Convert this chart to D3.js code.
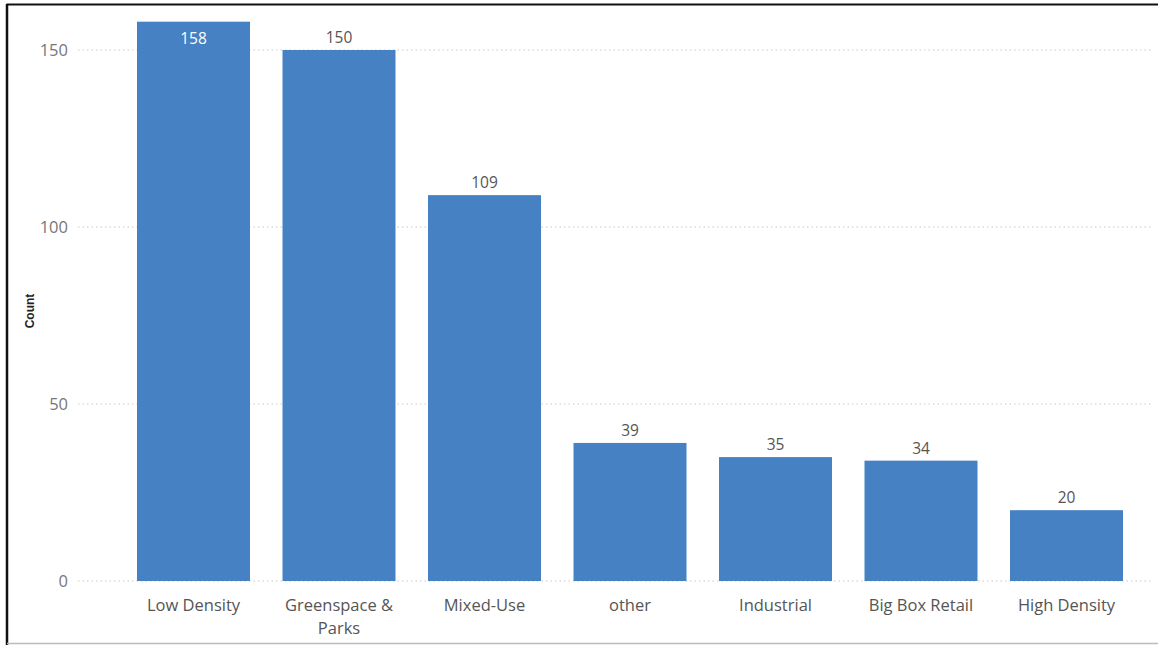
<!DOCTYPE html>
<html><head><meta charset="utf-8">
<script src="https://cdn.jsdelivr.net/npm/d3@7"></script>
<style>body{margin:0;background:#fff}svg{display:block}</style>
</head><body>
<script>
const categories = ["Low Density", "Greenspace & Parks", "Mixed-Use", "other", "Industrial", "Big Box Retail", "High Density"];
const counts = [158, 150, 109, 39, 35, 34, 20];
const yTicks = [0, 50, 100, 150];
const yTitle = "Count";

const W = 1158, H = 645;
const svg = d3.select("body").append("svg").attr("width", W).attr("height", H);
const font = "'Segoe UI', 'Open Sans', sans-serif";

// frame
svg.append("line").attr("x1", 6.5).attr("x2", W).attr("y1", 4.5).attr("y2", 4.5).attr("stroke", "#111").attr("stroke-width", 2);
svg.append("line").attr("x1", 7).attr("x2", 7).attr("y1", 4).attr("y2", H).attr("stroke", "#111").attr("stroke-width", 2.5);
svg.append("line").attr("x1", 7).attr("x2", W).attr("y1", 643.5).attr("y2", 643.5).attr("stroke", "#bbb").attr("stroke-width", 1.5);

const x = d3.scaleBand().domain(categories).range([120.75, 1139.25]).paddingInner(0.2234).paddingOuter(0.1117);
const y = d3.scaleLinear().domain([0, 150]).range([581, 50]);

// gridlines
svg.append("g").selectAll("line").data(yTicks).join("line")
  .attr("x1", 78).attr("x2", 1152)
  .attr("y1", d => y(d)).attr("y2", d => y(d))
  .attr("stroke", "#c8c8c8").attr("stroke-width", 1).attr("stroke-dasharray", "1.5,3");

// y axis
const yAxis = svg.append("g").attr("transform", "translate(72,0)")
  .call(d3.axisLeft(y).tickValues(yTicks).tickSize(0).tickPadding(4));
yAxis.select(".domain").remove();
yAxis.selectAll("text").attr("font-family", font).attr("font-size", 16.5).attr("fill", "#777");

svg.append("text").attr("transform", "translate(34,311) rotate(-90)")
  .attr("text-anchor", "middle").attr("font-family", "'Liberation Sans', Arial, sans-serif")
  .attr("font-size", 12).attr("font-weight", "bold").attr("fill", "#222").text(yTitle);

// bars
svg.append("g").selectAll("rect").data(counts).join("rect")
  .attr("x", (d, i) => x(categories[i])).attr("width", x.bandwidth())
  .attr("y", d => y(d)).attr("height", d => y(0) - y(d))
  .attr("fill", "#4581c3");

// value labels
svg.append("g").selectAll("text").data(counts).join("text")
  .attr("x", (d, i) => x(categories[i]) + x.bandwidth() / 2)
  .attr("y", d => y(d) - 28 < 0 ? y(d) + 22 : y(d) - 7)
  .attr("text-anchor", "middle").attr("font-family", font).attr("font-size", 15.5)
  .attr("fill", d => y(d) - 28 < 0 ? "#fff" : "#555")
  .text(d => d);

// x labels with wrap
const xl = svg.append("g").selectAll("text").data(categories).join("text")
  .attr("x", d => x(d) + x.bandwidth() / 2).attr("y", 611)
  .attr("text-anchor", "middle").attr("font-family", font).attr("font-size", 16.5).attr("fill", "#555");
xl.each(function(d) {
  const t = d3.select(this);
  const lines = d === "Greenspace & Parks" ? ["Greenspace &", "Parks"] : [d];
  lines.forEach((l, k) => t.append("tspan").attr("x", x(d) + x.bandwidth() / 2).attr("dy", k ? 23 : 0).text(l));
});
</script>
</body></html>
